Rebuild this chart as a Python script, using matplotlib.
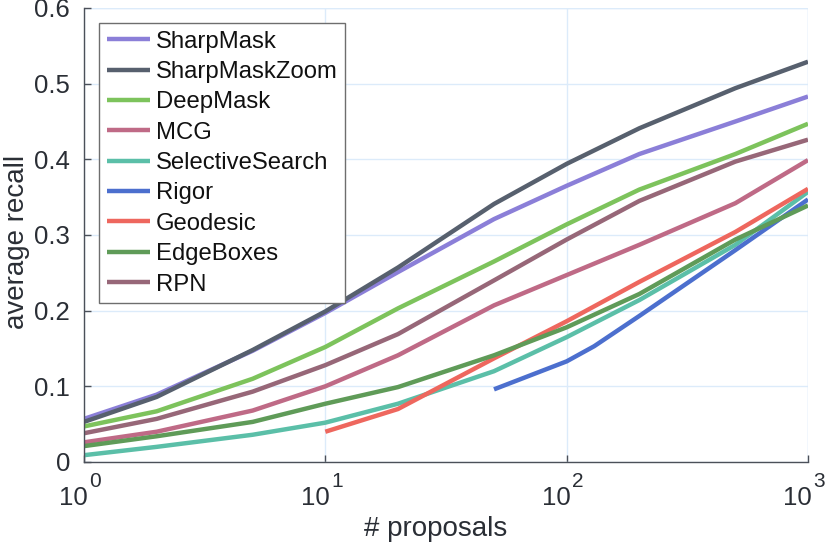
import numpy as np
import matplotlib
matplotlib.use("Agg")
import matplotlib.pyplot as plt

plt.rcParams['font.family'] = ['Liberation Sans', 'DejaVu Sans']

# proposals counts (x) and average recall per method
proposals = [1, 2, 5, 10, 20, 50, 100, 200, 500, 1000]
sharpmask = [0.057, 0.089, 0.147, 0.197, 0.251, 0.321, 0.365, 0.407, 0.450, 0.483]
sharpmask_zoom = [0.053, 0.086, 0.148, 0.199, 0.257, 0.341, 0.394, 0.441, 0.494, 0.529]
deepmask = [0.047, 0.067, 0.110, 0.152, 0.203, 0.265, 0.314, 0.360, 0.407, 0.447]
mcg = [0.026, 0.040, 0.068, 0.100, 0.141, 0.207, 0.247, 0.287, 0.342, 0.399]
selective = [0.009, 0.020, 0.036, 0.052, 0.077, 0.120, 0.165, 0.214, 0.287, 0.357]
edgeboxes = [0.021, 0.034, 0.053, 0.077, 0.099, 0.141, 0.178, 0.222, 0.294, 0.339]
rpn = [0.038, 0.057, 0.093, 0.128, 0.169, 0.240, 0.294, 0.345, 0.397, 0.426]

geodesic_x = [10, 20, 50, 100, 200, 500, 1000]
geodesic = [0.040, 0.070, 0.137, 0.186, 0.238, 0.304, 0.361]

rigor_x = [50, 100, 130, 200, 500, 1000]
rigor = [0.096, 0.133, 0.153, 0.193, 0.280, 0.347]

series = [
    ("SharpMask", proposals, sharpmask, "#8b7fd8"),
    ("SharpMaskZoom", proposals, sharpmask_zoom, "#57606e"),
    ("DeepMask", proposals, deepmask, "#7dc35c"),
    ("MCG", proposals, mcg, "#bf6a86"),
    ("SelectiveSearch", proposals, selective, "#5bbfa8"),
    ("Rigor", rigor_x, rigor, "#4c6fce"),
    ("Geodesic", geodesic_x, geodesic, "#ee675e"),
    ("EdgeBoxes", proposals, edgeboxes, "#5f9b58"),
    ("RPN", proposals, rpn, "#976778"),
]

x_ticks = [1, 10, 100, 1000]
x_exps = ["0", "1", "2", "3"]
y_ticks = [0, 0.1, 0.2, 0.3, 0.4, 0.5, 0.6]
y_labels = ["0", "0.1", "0.2", "0.3", "0.4", "0.5", "0.6"]

axis_col = "#4b5059"
text_col = "#2a2e35"

fig = plt.figure(figsize=(8.3, 5.47), dpi=100)
ax = fig.add_axes([0.1012, 0.1554, 0.8723, 0.8300])

for name, xs, ys, col in series:
    ax.plot(xs, ys, color=col, linewidth=3.2, label=name, solid_capstyle='butt')

ax.set_xscale('log')
ax.set_xlim(1, 1000)
ax.set_ylim(0, 0.6)
ax.minorticks_off()
ax.set_xticks(x_ticks)
ax.set_xticklabels([""] * len(x_ticks))
ax.set_yticks(y_ticks)
ax.set_yticklabels(y_labels)

ax.grid(True, color="#dcebfa", linewidth=1.0)
ax.set_axisbelow(True)
for s in ['top', 'right']:
    ax.spines[s].set_visible(False)
for s in ['left', 'bottom']:
    ax.spines[s].set_color(axis_col)
    ax.spines[s].set_linewidth(1.0)
# light border lines on top/right like MATLAB grid
ax.axhline(0.6, color="#dcebfa", linewidth=1.0, zorder=0.5)
ax.axvline(1000, color="#dcebfa", linewidth=1.0, zorder=0.5)

ax.tick_params(axis='both', direction='in', length=5, width=1.0, color=axis_col,
               labelsize=18.5, labelcolor=text_col)
ax.tick_params(axis='y', pad=10)

# x tick labels as MATLAB style 10^n
for xt, ex in zip(x_ticks, x_exps):
    ax.annotate("10", xy=(xt, 0), xycoords=('data', 'axes fraction'),
                xytext=(3, -17), textcoords='offset points',
                ha='right', va='top', fontsize=18.5, color=text_col)
    ax.annotate(ex, xy=(xt, 0), xycoords=('data', 'axes fraction'),
                xytext=(4, -7), textcoords='offset points',
                ha='left', va='top', fontsize=15, color=text_col)

ax.set_xlabel("# proposals", fontsize=20, color=text_col)
ax.xaxis.set_label_coords(0.485, -0.12)
ax.set_ylabel("average recall", fontsize=20, color=text_col)
ax.yaxis.set_label_coords(-0.074, 0.485)

leg = ax.legend(loc='upper left', bbox_to_anchor=(0.0207, 0.967), borderaxespad=0,
                fontsize=17.2, handlelength=1.8, handletextpad=0.25,
                labelspacing=0.35, borderpad=0.32, fancybox=False, framealpha=1.0)
leg.get_frame().set_edgecolor("#6e6e6e")
leg.get_frame().set_linewidth(1.0)
for t in leg.get_texts():
    t.set_color("#111111")

fig.savefig("out.png", dpi=100)
